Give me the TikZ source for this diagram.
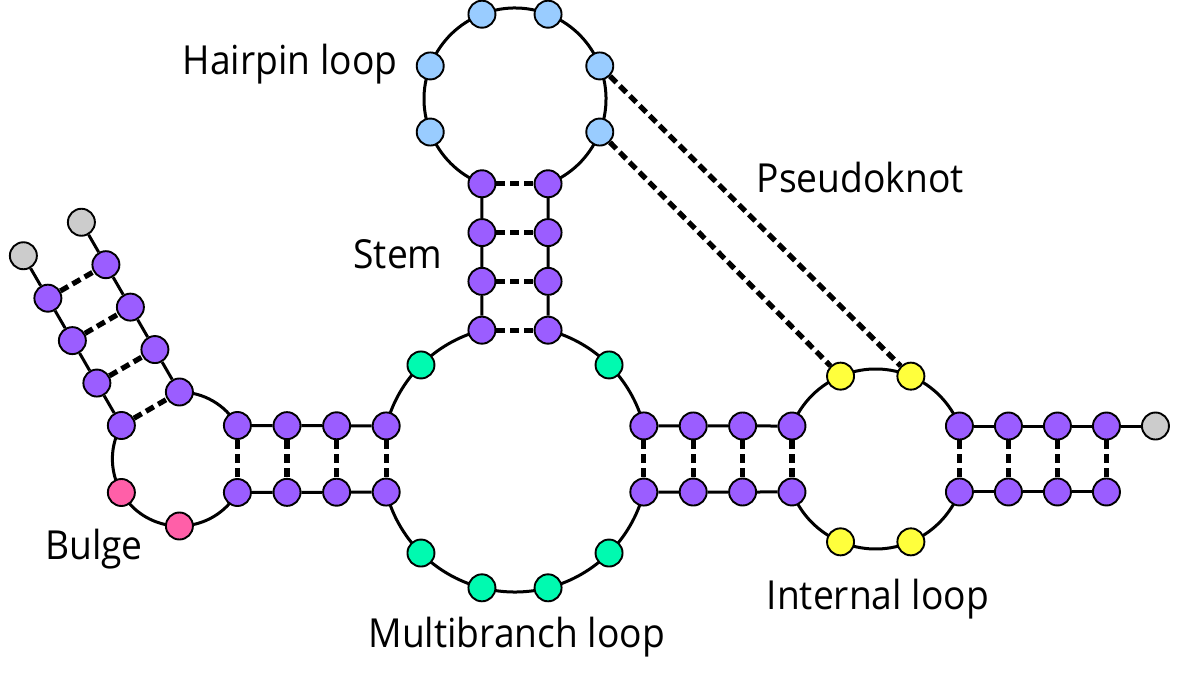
\documentclass[tikz,border=0pt]{standalone}
\usepackage{fontspec}
\setmainfont{Open Sans}[FakeStretch=0.93]
\usetikzlibrary{calc}

\definecolor{pairedcol}{HTML}{9B5DFF}
\definecolor{hairpincol}{HTML}{99CCFF}
\definecolor{multicol}{HTML}{00FAB0}
\definecolor{bulgecol}{HTML}{FF5FA8}
\definecolor{internalcol}{HTML}{FFFF3C}
\definecolor{endcol}{HTML}{CCCCCC}

\pgfdeclarelayer{bg}
\pgfsetlayers{bg,main}

\tikzset{
  base/.style={circle, draw, line width=1.9pt, minimum size=27pt, inner sep=0pt},
  paired/.style={base, fill=pairedcol},
  hairpin/.style={base, fill=hairpincol},
  multi/.style={base, fill=multicol},
  bulged/.style={base, fill=bulgecol},
  internal/.style={base, fill=internalcol},
  endbase/.style={base, fill=endcol},
  backbone/.style={line width=3pt},
  hbond/.style={line width=5.2pt, dash pattern=on 9pt off 5pt},
  lbl/.style={font=\fontsize{40}{48}\selectfont, inner sep=0pt, anchor=base}
}

\begin{document}
\begin{tikzpicture}[x=1pt,y=1pt]
\useasboundingbox (0,0) rectangle (1190,674);
\coordinate (MB) at (515,215);
\coordinate (HP) at (515,575);
\coordinate (BU) at (179.4,215);
\coordinate (IL) at (875.7,215);

% multibranch loop
\foreach \a/\n/\s in {14.4/mbr1/paired, 45/mbg1/multi, 75.6/mbt2/paired,
    104.4/mbt1/paired, 135/mbg2/multi, 165.6/mbl1/paired, 194.4/mbl2/paired,
    225/mbg3/multi, 255.6/mbg4/multi, 284.4/mbg5/multi, 315/mbg6/multi,
    345.6/mbr2/paired}
  \node[\s] (\n) at ($(MB)+(\a:133)$) {};

% hairpin loop
\foreach \a/\n/\s in {248.7/hpl/paired, 201.3/hp1/hairpin, 158.7/hp2/hairpin,
    111.3/hp3/hairpin, 68.7/hp4/hairpin, 21.3/hp5/hairpin,
    338.7/hp6/hairpin, 291.3/hpr/paired}
  \node[\s] (\n) at ($(HP)+(\a:91)$) {};

% stem between them
\node[paired] (stl1) at ($(hpl)!1/3!(mbt1)$) {};
\node[paired] (stl2) at ($(hpl)!2/3!(mbt1)$) {};
\node[paired] (str1) at ($(hpr)!1/3!(mbt2)$) {};
\node[paired] (str2) at ($(hpr)!2/3!(mbt2)$) {};

% bulge
\foreach \a/\n/\s in {30/bu1/paired, 90/bu2/paired, 150/bu3/paired,
    210/bu4/bulged, 270/bu5/bulged, 330/bu6/paired}
  \node[\s] (\n) at ($(BU)+(\a:67)$) {};

% left stem
\node[paired] (lt1) at ($(bu1)!1/3!(mbl1)$) {};
\node[paired] (lt2) at ($(bu1)!2/3!(mbl1)$) {};
\node[paired] (lb1) at ($(bu6)!1/3!(mbl2)$) {};
\node[paired] (lb2) at ($(bu6)!2/3!(mbl2)$) {};

% diagonal stem
\foreach \k in {1,2,3}{
  \node[paired] (da\k) at ($(bu2)+(120:49*\k)$) {};
  \node[paired] (db\k) at ($(bu3)+(120:49*\k)$) {};
}
\node[endbase] (da4) at ($(bu2)+(120:196)$) {};
\node[endbase] (db4) at ($(bu3)+(120:196)$) {};

% internal loop
\foreach \a/\n/\s in {21.5/ilr1/paired, 67/il1/internal, 113/il2/internal,
    158.5/ill1/paired, 201.5/ill2/paired, 247/il3/internal, 293/il4/internal,
    338.5/ilr2/paired}
  \node[\s] (\n) at ($(IL)+(\a:90)$) {};

% right stem
\node[paired] (rt1) at ($(mbr1)!1/3!(ill1)$) {};
\node[paired] (rt2) at ($(mbr1)!2/3!(ill1)$) {};
\node[paired] (rb1) at ($(mbr2)!1/3!(ill2)$) {};
\node[paired] (rb2) at ($(mbr2)!2/3!(ill2)$) {};

% tail stem
\foreach \k in {1,2,3}{
  \node[paired] (tt\k) at ($(ilr1)+(49*\k,0)$) {};
  \node[paired] (tb\k) at ($(ilr2)+(49*\k,0)$) {};
}
\node[endbase] (tail) at ($(ilr1)+(196,0)$) {};

\begin{pgfonlayer}{bg}
% loop arcs
\draw[backbone] (mbr1.center) arc[start angle=14.4, end angle=75.6, radius=133];
\draw[backbone] (mbt1.center) arc[start angle=104.4, end angle=165.6, radius=133];
\draw[backbone] (mbl2.center) arc[start angle=194.4, end angle=345.6, radius=133];
\draw[backbone] (hpr.center) arc[start angle=-68.7, end angle=248.7, radius=91];
\draw[backbone] (bu1.center) arc[start angle=30, end angle=90, radius=67];
\draw[backbone] (bu3.center) arc[start angle=150, end angle=330, radius=67];
\draw[backbone] (ilr1.center) arc[start angle=21.5, end angle=158.5, radius=90];
\draw[backbone] (ill2.center) arc[start angle=201.5, end angle=338.5, radius=90];
% strands
\draw[backbone] (hpl) -- (stl1) -- (stl2) -- (mbt1);
\draw[backbone] (hpr) -- (str1) -- (str2) -- (mbt2);
\draw[backbone] (bu1) -- (lt1) -- (lt2) -- (mbl1);
\draw[backbone] (bu6) -- (lb1) -- (lb2) -- (mbl2);
\draw[backbone] (bu2) -- (da1) -- (da2) -- (da3) -- (da4);
\draw[backbone] (bu3) -- (db1) -- (db2) -- (db3) -- (db4);
\draw[backbone] (mbr1) -- (rt1) -- (rt2) -- (ill1);
\draw[backbone] (mbr2) -- (rb1) -- (rb2) -- (ill2);
\draw[backbone] (ilr1) -- (tt1) -- (tt2) -- (tt3) -- (tail);
\draw[backbone] (ilr2) -- (tb1) -- (tb2) -- (tb3);
\end{pgfonlayer}

% base pairs
\draw[hbond] (hpl) -- (hpr);
\draw[hbond] (stl1) -- (str1);
\draw[hbond] (stl2) -- (str2);
\draw[hbond] (mbt1) -- (mbt2);
\draw[hbond] (bu1) -- (bu6);
\draw[hbond] (lt1) -- (lb1);
\draw[hbond] (lt2) -- (lb2);
\draw[hbond] (mbl1) -- (mbl2);
\draw[hbond] (bu3) -- (bu2);
\foreach \k in {1,2,3}
  \draw[hbond] (db\k) -- (da\k);
\draw[hbond] (mbr1) -- (mbr2);
\draw[hbond] (rt1) -- (rb1);
\draw[hbond] (rt2) -- (rb2);
\draw[hbond] (ill1) -- (ill2);
\draw[hbond] (ilr1) -- (ilr2);
\foreach \k in {1,2,3}
  \draw[hbond] (tt\k) -- (tb\k);
% pseudoknot
\draw[hbond] (hp5) -- (il1);
\draw[hbond] (hp6) -- (il2);

% labels
\node[lbl] (lhp) at (290,599) {Hairpin loop};
\node[lbl] (lst) at (398,405.7) {Stem};
\node[lbl] (lpk) at (860.3,481.7) {Pseudoknot};
\node[lbl] (lbu) at (94,114.7) {Bulge};
\node[lbl] (lmb) at (516.7,26.3) {Multibranch loop};
\node[lbl] (lil) at (877.8,64.7) {Internal loop};
\end{tikzpicture}
\end{document}
